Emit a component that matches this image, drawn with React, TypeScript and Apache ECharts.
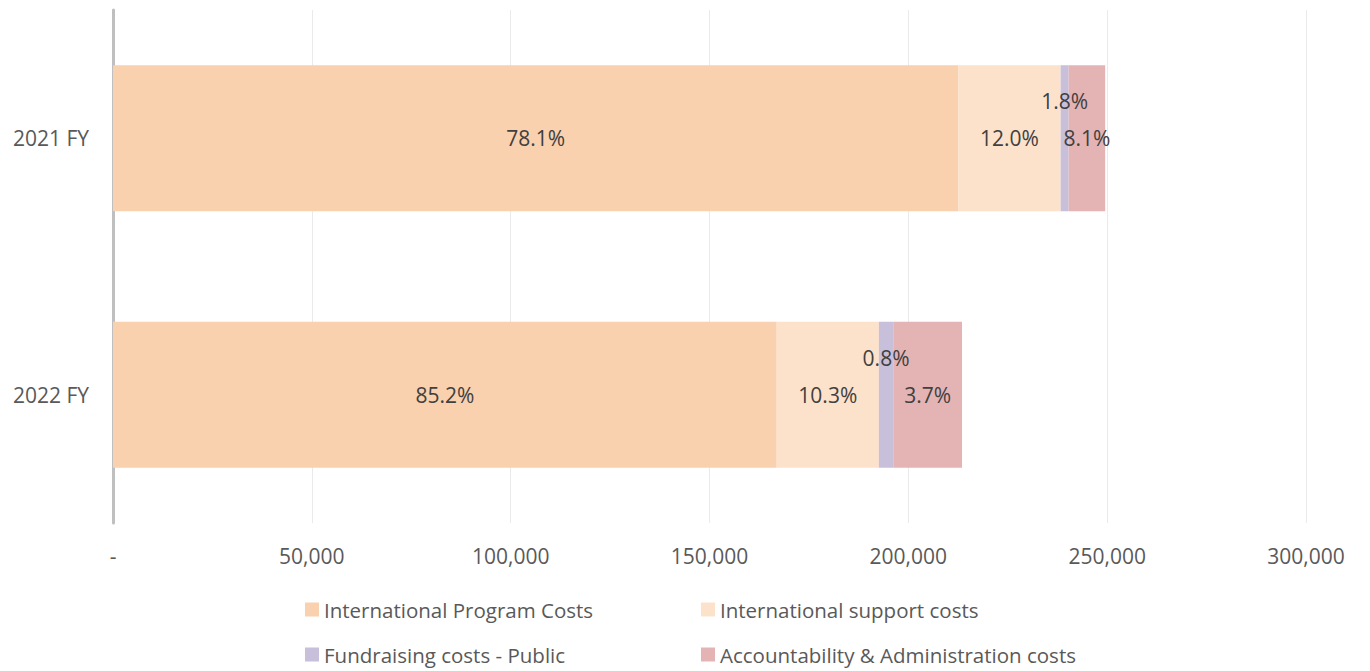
import React, { useEffect, useRef } from "react";
import * as echarts from "echarts";

const categories = ["2021 FY", "2022 FY"];
const seriesNames = [
  "International Program Costs",
  "International support costs",
  "Fundraising costs - Public",
  "Accountability & Administration costs",
];
const programCosts = [212600, 166900];
const supportCosts = [25700, 25700];
const fundraisingCosts = [2000, 3600];
const adminCosts = [9200, 17300];
const programLabels = ["78.1%", "85.2%"];
const supportLabels = ["12.0%", "10.3%"];
const fundraisingLabels = ["1.8%", "0.8%"];
const adminLabels = ["8.1%", "3.7%"];
const xTicks = [0, 50000, 100000, 150000, 200000, 250000, 300000];

const colors = ["#F9D1AF", "#FCE2CB", "#C8BFDA", "#E4B4B5"];
const FONT = "Open Sans";

export default function App() {
  const ref = useRef<HTMLDivElement>(null);
  useEffect(() => {
    document.body.style.margin = "0";
    const chart = echarts.init(ref.current!, null, { renderer: "svg" });
    const values = [programCosts, supportCosts, fundraisingCosts, adminCosts];
    const labels = [programLabels, supportLabels, fundraisingLabels, adminLabels];
    const legendPos = [
      { left: 300, top: 594 },
      { left: 696, top: 594 },
      { left: 300, top: 639 },
      { left: 696, top: 639 },
    ];
    chart.setOption({
      animation: false,
      color: colors,
      textStyle: { fontFamily: FONT },
      grid: { left: 113, right: 64, top: 10, bottom: 148, containLabel: false },
      legend: seriesNames.map((n, i) => ({
        data: [n],
        left: legendPos[i].left,
        top: legendPos[i].top,
        icon: "rect",
        itemWidth: 14,
        itemHeight: 14,
        itemGap: 6,
        textStyle: { fontFamily: FONT, fontSize: 20.5, color: "#595959" },
        selectedMode: false,
      })),
      xAxis: {
        type: "value",
        min: xTicks[0],
        max: xTicks[xTicks.length - 1],
        interval: xTicks[1] - xTicks[0],
        axisLine: { show: false },
        axisTick: { show: false },
        splitLine: { lineStyle: { color: "#EAEAEA", width: 1 } },
        axisLabel: {
          margin: 22,
          fontSize: 21,
          color: "#595959",
          fontFamily: FONT,
          formatter: (v: number) => (v === 0 ? "-" : v.toLocaleString("en-US")),
        },
      },
      yAxis: {
        type: "category",
        data: categories,
        inverse: true,
        axisLine: { show: true, lineStyle: { color: "#BFBFBF", width: 3 } },
        axisTick: { show: false },
        axisLabel: { margin: 24, fontSize: 21, color: "#595959", fontFamily: FONT },
      },
      series: seriesNames.map((name, i) => ({
        name,
        type: "bar",
        stack: "total",
        barWidth: "57%",
        data: values[i],
        label: {
          show: true,
          position: "inside",
          offset: i === 2 ? [0, -37] : [0, 0],
          fontSize: 21,
          fontFamily: FONT,
          color: "#404040",
          formatter: (p: any) => labels[i][p.dataIndex],
        },
      })),
    });
    return () => chart.dispose();
  }, []);
  return <div ref={ref} style={{ width: 1370, height: 671 }} />;
}
